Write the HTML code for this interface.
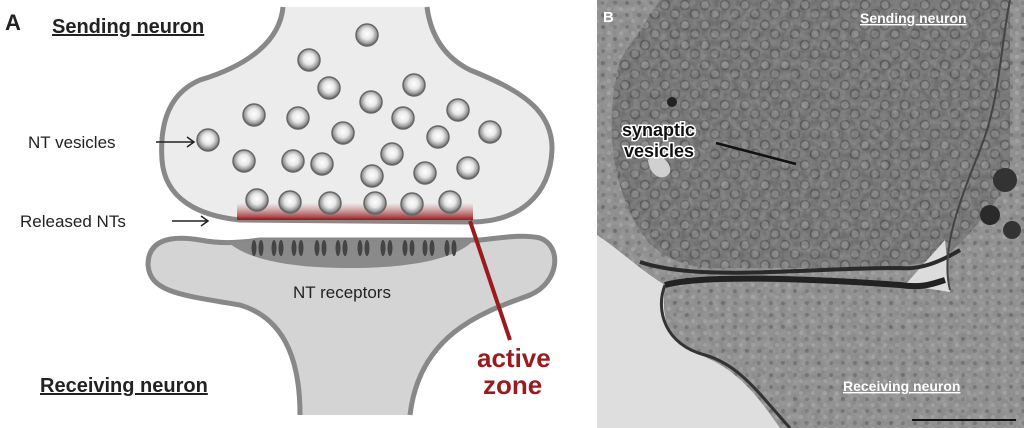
<!DOCTYPE html>
<html><head><meta charset="utf-8"><style>
html,body{margin:0;padding:0;background:#fff;width:1024px;height:428px;overflow:hidden}
svg{display:block}
text{font-family:"Liberation Sans",Arial,sans-serif}
</style></head><body>
<svg width="1024" height="428" viewBox="0 0 1024 428" xmlns="http://www.w3.org/2000/svg">
<defs>
<radialGradient id="ves" cx="50%" cy="45%" r="55%">
<stop offset="0" stop-color="#fff"/><stop offset="0.45" stop-color="#e8e8e8"/><stop offset="0.8" stop-color="#9a9a9a"/><stop offset="1" stop-color="#555"/>
</radialGradient>
<linearGradient id="red" x1="0" y1="0" x2="0" y2="1">
<stop offset="0" stop-color="#b55" stop-opacity="0"/><stop offset="1" stop-color="#9a1b1e"/>
</linearGradient>
<pattern id="em" width="20" height="20" patternUnits="userSpaceOnUse">
<rect width="20" height="20" fill="#6e6e6e"/>
<circle cx="5" cy="5" r="4.5" fill="#808080" stroke="#555" stroke-width="1.5"/>
<circle cx="15" cy="14" r="4.5" fill="#7a7a7a" stroke="#555" stroke-width="1.5"/>
</pattern>
<pattern id="em2" width="12" height="12" patternUnits="userSpaceOnUse">
<rect width="12" height="12" fill="#8a8a8a"/>
<circle cx="3" cy="3" r="2" fill="#6e6e6e"/><circle cx="9" cy="9" r="2" fill="#9c9c9c"/>
</pattern>
<filter id="noise" filterUnits="userSpaceOnUse" x="597" y="0" width="427" height="428"><feTurbulence type="fractalNoise" baseFrequency="0.15" numOctaves="2" seed="3"/><feColorMatrix values="0 0 0 0 0.5 0 0 0 0 0.5 0 0 0 0 0.5 0 0 0 1.2 -0.3"/></filter>
<clipPath id="cb"><rect x="597" y="0" width="427" height="428"/></clipPath>
<g id="rp"><ellipse cx="0" cy="248" rx="2.5" ry="8"/><ellipse cx="7" cy="248" rx="2.5" ry="8"/></g>
</defs>

<!-- Panel A -->
<path d="M283,7 C280,40 250,65 200,80 C165,95 160,130 162,160 C165,200 200,216 240,220 L470,222 C520,222 550,195 552,150 C553,110 520,90 470,70 C440,55 430,30 427,7" fill="#ececec" stroke="#888" stroke-width="5"/>
<path d="M300,415 C300,370 290,320 240,305 C180,295 150,292 148,265 C148,240 170,235 200,240 C220,244 240,243 260,240 L480,240 C500,238 520,234 540,238 C562,246 560,282 530,295 C490,310 420,330 410,415" fill="#d4d4d4" stroke="#888" stroke-width="5"/>
<path d="M228,242 L472,242 C450,262 400,268 350,268 C300,268 250,262 228,242 Z" fill="#8a8a8a"/>
<rect x="237" y="203" width="236" height="17" fill="url(#red)"/>
<g fill="#444">
<use href="#rp" x="254"/><use href="#rp" x="274"/><use href="#rp" x="294"/><use href="#rp" x="317"/><use href="#rp" x="338"/><use href="#rp" x="360"/><use href="#rp" x="383"/><use href="#rp" x="405"/><use href="#rp" x="425"/><use href="#rp" x="447"/>
</g>
<g fill="url(#ves)" stroke="#666" stroke-width="1.5">
<circle cx="367" cy="35" r="11"/><circle cx="309" cy="60" r="11"/><circle cx="329" cy="88" r="11"/><circle cx="414" cy="85" r="11"/><circle cx="371" cy="102" r="11"/><circle cx="254" cy="115" r="11"/><circle cx="298" cy="118" r="11"/><circle cx="403" cy="118" r="11"/><circle cx="458" cy="110" r="11"/><circle cx="343" cy="133" r="11"/><circle cx="438" cy="137" r="11"/><circle cx="490" cy="132" r="11"/><circle cx="208" cy="140" r="11"/><circle cx="244" cy="161" r="11"/><circle cx="293" cy="161" r="11"/><circle cx="322" cy="164" r="11"/><circle cx="392" cy="154" r="11"/><circle cx="372" cy="176" r="11"/><circle cx="425" cy="173" r="11"/><circle cx="468" cy="168" r="11"/>
<circle cx="257" cy="200" r="11"/><circle cx="290" cy="202" r="11"/><circle cx="330" cy="203" r="11"/><circle cx="375" cy="203" r="11"/><circle cx="412" cy="204" r="11"/><circle cx="450" cy="202" r="11"/>
</g>
<line x1="470" y1="221" x2="510" y2="340" stroke="#9a1b1e" stroke-width="4"/>
<text x="477" y="367" font-size="26" font-weight="bold" fill="#9a1b1e">active</text>
<text x="483" y="394" font-size="26" font-weight="bold" fill="#9a1b1e">zone</text>
<text x="5" y="30" font-size="22" font-weight="bold" fill="#222">A</text>
<text x="52" y="33" font-size="20" font-weight="bold" fill="#222" text-decoration="underline">Sending neuron</text>
<text x="40" y="392" font-size="20" font-weight="bold" fill="#222" text-decoration="underline">Receiving neuron</text>
<text x="28" y="148" font-size="17" fill="#222">NT vesicles</text>
<path d="M156,142 L193,142 M187,137 L194,142 L187,147" stroke="#222" stroke-width="1.5" fill="none"/>
<text x="20" y="227" font-size="17" fill="#222">Released NTs</text>
<path d="M172,221 L207,221 M201,216 L208,221 L201,226" stroke="#222" stroke-width="1.5" fill="none"/>
<text x="342" y="298" font-size="17" fill="#222" text-anchor="middle">NT receptors</text>

<!-- Panel B -->
<g clip-path="url(#cb)">
<rect x="597" y="0" width="427" height="428" fill="url(#em2)"/>
<path d="M660,0 L1010,0 L1010,180 C990,210 960,250 935,262 L880,268 L720,268 C680,270 650,250 640,230 C620,200 600,140 620,60 Z" fill="url(#em)"/>
<rect x="597" y="0" width="427" height="428" filter="url(#noise)" opacity="0.5"/>
<path d="M597,235 C620,250 640,270 665,285 C660,320 670,345 700,355 C740,370 760,400 780,428 L597,428 Z" fill="#dedede"/>
<path d="M905,285 L945,240 L950,292 Z" fill="#dcdcdc"/>
<path d="M648,160 C655,150 672,160 670,172 C665,182 650,178 648,160 Z" fill="#d0d0d0"/>
<path d="M640,262 C700,282 800,268 900,268 C920,270 940,262 960,250" fill="none" stroke="#2a2a2a" stroke-width="4"/>
<path d="M665,285 C700,275 800,278 900,285 C920,288 930,285 945,280" fill="none" stroke="#222" stroke-width="6"/>
<path d="M665,285 C655,310 665,345 705,355 C740,365 760,395 790,428" fill="none" stroke="#333" stroke-width="3"/>
<path d="M950,290 C940,250 960,200 980,150 C1000,100 1000,50 1010,0" fill="none" stroke="#444" stroke-width="2"/>
<circle cx="672" cy="102" r="5" fill="#222"/>
<circle cx="1005" cy="180" r="12" fill="#333"/><circle cx="990" cy="215" r="10" fill="#2a2a2a"/><circle cx="1012" cy="230" r="9" fill="#333"/>
<line x1="912" y1="420" x2="1016" y2="420" stroke="#111" stroke-width="2"/>
<text x="603" y="22" font-size="15" font-weight="bold" fill="#fff">B</text>
<text x="860" y="23" font-size="14" font-weight="bold" fill="#fff" text-decoration="underline">Sending neuron</text>
<text x="843" y="391" font-size="14" font-weight="bold" fill="#fff" text-decoration="underline">Receiving neuron</text>
<g font-size="18" font-weight="bold" fill="#111" stroke="#fff" stroke-width="3" paint-order="stroke">
<text x="622" y="136">synaptic</text><text x="624" y="157">vesicles</text>
</g>
<line x1="716" y1="143" x2="796" y2="164" stroke="#111" stroke-width="2.5"/>
</g>
</svg>
</body></html>
